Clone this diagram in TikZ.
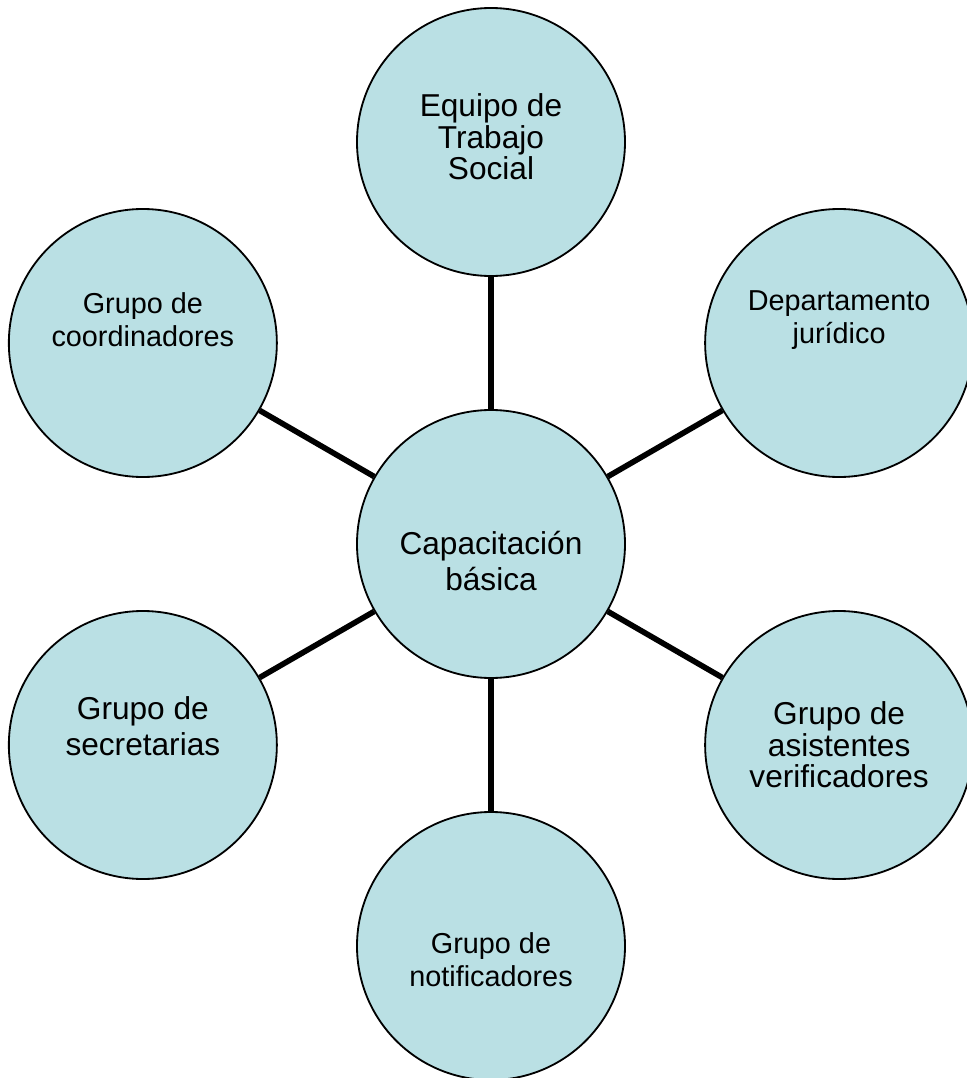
\documentclass[tikz,border=0pt]{standalone}
\usepackage{fontspec}
\setmainfont{Liberation Sans}
\usepackage{xcolor}
\definecolor{bubblefill}{RGB}{186,224,228}

\begin{document}
\begin{tikzpicture}[every node/.style={circle,draw,line width=1.3pt,fill=bubblefill,minimum size=6.7cm,inner sep=0pt},
  txt/.style={draw=none,fill=none,minimum size=0pt,inner sep=1pt,align=center},
  bigtxt/.style={font=\fontsize{22.5}{22.5}\selectfont},
  widetxt/.style={font=\fontsize{22.5}{26}\selectfont},
  smalltxt/.style={font=\fontsize{20.5}{23.5}\selectfont}]
  \useasboundingbox (-12.275,-13.35) rectangle (11.875,13.6);
  \node[label={[txt,widetxt,yshift=-0.425cm]center:{Capacitación\\básica}}] (cap) at (0,0) {};

  \foreach \a/\n/\o/\s/\t in {90/equipo/0.125/bigtxt/{Equipo de\\Trabajo\\Social},
     30/juridico/0.575/smalltxt/{Departamento\\jurídico},
     -30/verificadores/0/bigtxt/{Grupo de\\asistentes\\verificadores},
     -90/notificadores/-0.35/smalltxt/{Grupo de\\notificadores},
     -150/secretarias/0.475/widetxt/{Grupo de\\secretarias},
     150/coordinadores/0.575/smalltxt/{Grupo de\\coordinadores}}{
    \node[label={[txt,\s,yshift=\o cm]center:\t}] (\n) at (\a:10.05) {};
    \draw[line width=4pt] (cap) -- (\n);
  }
\end{tikzpicture}
\end{document}
